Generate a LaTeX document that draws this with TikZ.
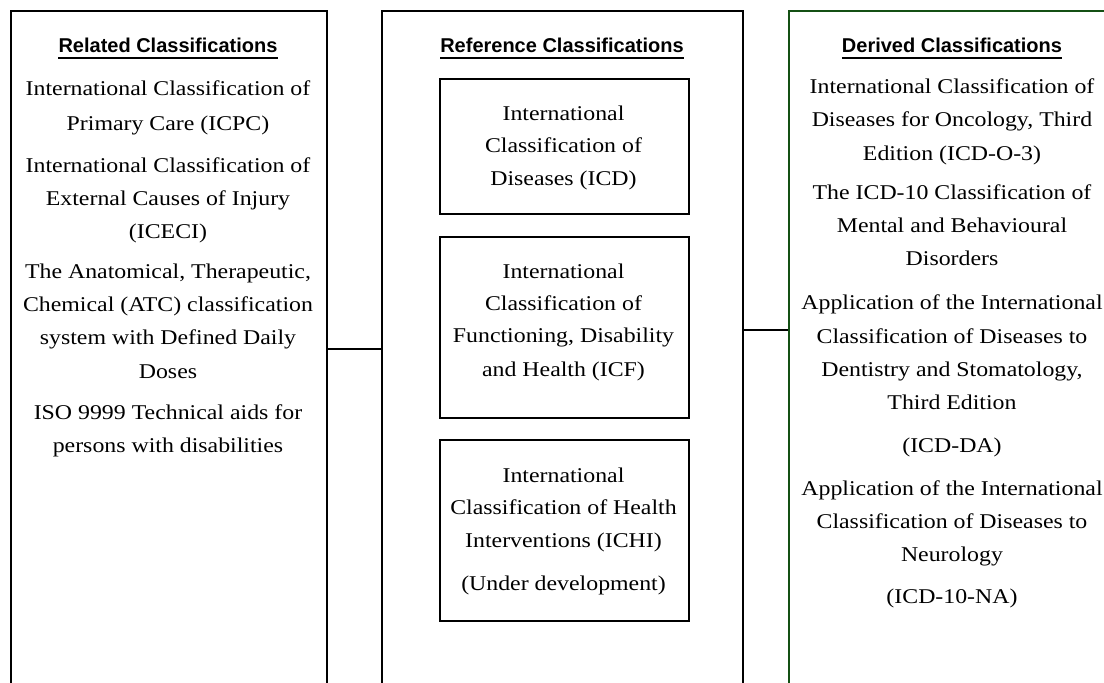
\documentclass[tikz,border=0pt]{standalone}
\usepackage{fontspec}
\setmainfont{Liberation Serif}[FakeStretch=1.135]
\newfontfamily\headfont{Liberation Sans}
\definecolor{dgreen}{RGB}{20,80,20}
\begin{document}
\begin{tikzpicture}[x=1pt,y=-1pt,
 col/.style={draw=black,line width=1.5pt,rectangle,inner sep=0pt,anchor=north west,minimum height=720pt},
 inbox/.style={draw=black,line width=1.5pt,rectangle,inner sep=0pt,anchor=north west,minimum width=249pt},
 txt/.style={anchor=base,inner sep=0pt,font=\fontsize{21}{24}\selectfont},
 head/.style={anchor=base,inner sep=0pt,font=\headfont\bfseries\fontsize{20}{24}\selectfont},
 conn/.style={draw=black,line width=1.5pt},
 uline/.style={line width=1.8pt}]
\useasboundingbox (0,0) rectangle (1104,683);
\clip (0,0) rectangle (1104,683);
\fill[white] (0,0) rectangle (1104,683);
% columns
\node[col,minimum width=316pt] (left) at (10,10) {};
\node[col,minimum width=361pt] (mid) at (381,10) {};
\node[col,draw=dgreen,minimum width=330pt] (right) at (788,10) {};
% inner boxes
\node[inbox,minimum height=135pt] (icd) at (439,78) {};
\node[inbox,minimum height=181pt] (icf) at (439,236) {};
\node[inbox,minimum height=181pt] (ichi) at (439,439) {};
% connectors
\coordinate (yl) at (0,349);
\coordinate (yr) at (0,330);
\draw[conn] (left.east |- yl) -- (mid.west |- yl);
\draw[conn] (mid.east |- yr) -- (right.west |- yr);
% headings
\node[head] (hL) at (168,52) {Related Classifications};
\node[head] (hM) at (562,52) {Reference Classifications};
\node[head] (hR) at (952,52) {Derived Classifications};
\draw[uline] ([yshift=-6pt]hL.base west) -- ([yshift=-6pt]hL.base east);
\draw[uline] ([yshift=-6pt]hM.base west) -- ([yshift=-6pt]hM.base east);
\draw[uline] ([yshift=-6pt]hR.base west) -- ([yshift=-6pt]hR.base east);
% left column
\node[txt] (l1) at (168,95) {International Classification of};
\node[txt] (l2) at (168,130.5) {Primary Care (ICPC)};
\node[txt] (l3) at (168,172) {International Classification of};
\node[txt] (l4) at (168,205) {External Causes of Injury};
\node[txt] (l5) at (168,238) {(ICECI)};
\node[txt] (l6) at (168,278) {The Anatomical, Therapeutic,};
\node[txt] (l7) at (168,311.3) {Chemical (ATC) classification};
\node[txt] (l8) at (168,344.6) {system with Defined Daily};
\node[txt] (l9) at (168,378) {Doses};
\node[txt] (l10) at (168,419.5) {ISO 9999 Technical aids for};
\node[txt] (l11) at (168,452.8) {persons with disabilities};
% middle boxes
\node[txt] (m1) at (563.5,120) {International};
\node[txt] (m2) at (563.5,152.7) {Classification of};
\node[txt] (m3) at (563.5,185) {Diseases (ICD)};
\node[txt] (m4) at (563.5,278.3) {International};
\node[txt] (m5) at (563.5,310.7) {Classification of};
\node[txt] (m6) at (563.5,342.7) {Functioning, Disability};
\node[txt] (m7) at (563.5,376) {and Health (ICF)};
\node[txt] (m8) at (563.5,482.3) {International};
\node[txt] (m9) at (563.5,514) {Classification of Health};
\node[txt] (m10) at (563.5,547.3) {Interventions (ICHI)};
\node[txt] (m11) at (563.5,590.7) {(Under development)};
% right column
\node[txt] (r1) at (952,93.5) {International Classification of};
\node[txt] (r2) at (952,126.8) {Diseases for Oncology, Third};
\node[txt] (r3) at (952,160) {Edition (ICD-O-3)};
\node[txt] (r4) at (952,199) {The ICD-10 Classification of};
\node[txt] (r5) at (952,232.3) {Mental and Behavioural};
\node[txt] (r6) at (952,265.6) {Disorders};
\node[txt] (r7) at (952,309.5) {Application of the International};
\node[txt] (r8) at (952,343) {Classification of Diseases to};
\node[txt] (r9) at (952,376.5) {Dentistry and Stomatology,};
\node[txt] (r10) at (952,409.5) {Third Edition};
\node[txt] (r11) at (952,452) {(ICD-DA)};
\node[txt] (r12) at (952,495) {Application of the International};
\node[txt] (r13) at (952,528) {Classification of Diseases to};
\node[txt] (r14) at (952,561) {Neurology};
\node[txt] (r15) at (952,603) {(ICD-10-NA)};
\end{tikzpicture}
\end{document}
